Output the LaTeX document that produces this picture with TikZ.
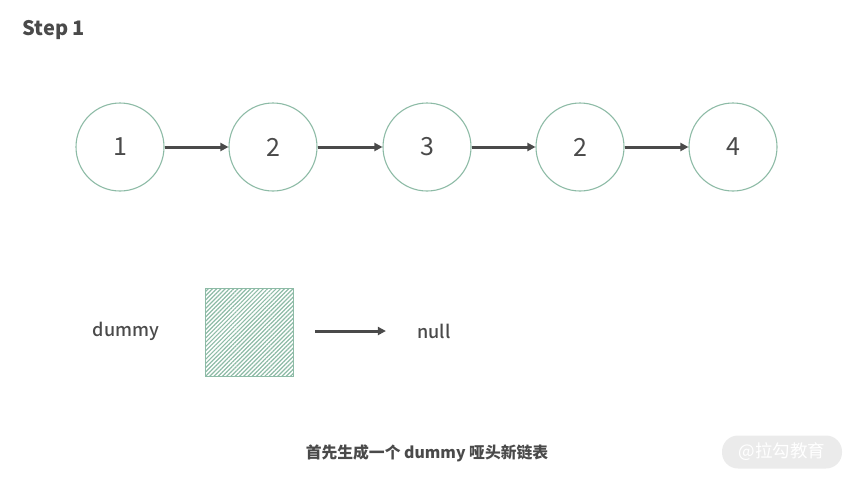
\documentclass[tikz,border=0pt]{standalone}
\usepackage{fontspec}
\setmainfont{Noto Sans CJK SC}
\newfontfamily\medfont{Noto Sans CJK SC Medium}
\usetikzlibrary{arrows.meta,patterns.meta}
\definecolor{txt}{HTML}{4A4A4A}
\definecolor{grn}{HTML}{8DBBA6}
\definecolor{wm}{HTML}{EBEBEB}
\begin{document}
\begin{tikzpicture}[x=1pt,y=-1pt,
  lnode/.style={circle,draw=grn,line width=1.1pt,minimum size=88pt,inner sep=0pt,text=txt,font=\fontsize{25}{28}\selectfont},
  link/.style={draw=txt,line width=3pt,-{Triangle[length=8pt,width=8pt]}},
  lbl/.style={text=txt,font=\fontsize{18}{20}\selectfont\medfont}]
\useasboundingbox (0,0) rectangle (853,480);
\node[anchor=west,text=txt,font=\fontsize{20}{22}\selectfont\bfseries] (title) at (19,30) {Step 1};
\node[lnode] (n1) at (120,147) {1};
\node[lnode] (n2) at (273,147) {2};
\node[lnode] (n3) at (427,147) {3};
\node[lnode] (n4) at (580,147) {2};
\node[lnode] (n5) at (733,147) {4};
\draw[link] (n1) -- (n2);
\draw[link] (n2) -- (n3);
\draw[link] (n3) -- (n4);
\draw[link] (n4) -- (n5);
\node[lbl] (dummy) at (126,331) {dummy};
\node[draw=grn,line width=1pt,minimum size=88pt,inner sep=0pt,
  pattern={Lines[angle=45,distance=3pt,line width=1.2pt]},pattern color=grn] (box) at (249,332) {};
\node[lbl] (null) at (434,331) {null};
\coordinate (a0) at (315,331);
\draw[link] (a0) -- ([xshift=-28pt]null.west);
\node[text=txt,font=\fontsize{15.8}{18}\selectfont\bfseries] (cap) at (427,453) {首先生成一个 dummy 哑头新链表};
\node[fill=wm,rounded corners=16pt,minimum width=120pt,minimum height=33pt,text=white,font=\fontsize{17.5}{19}\selectfont] (wmk) at (782,452) {@拉勾教育};
\end{tikzpicture}
\end{document}
